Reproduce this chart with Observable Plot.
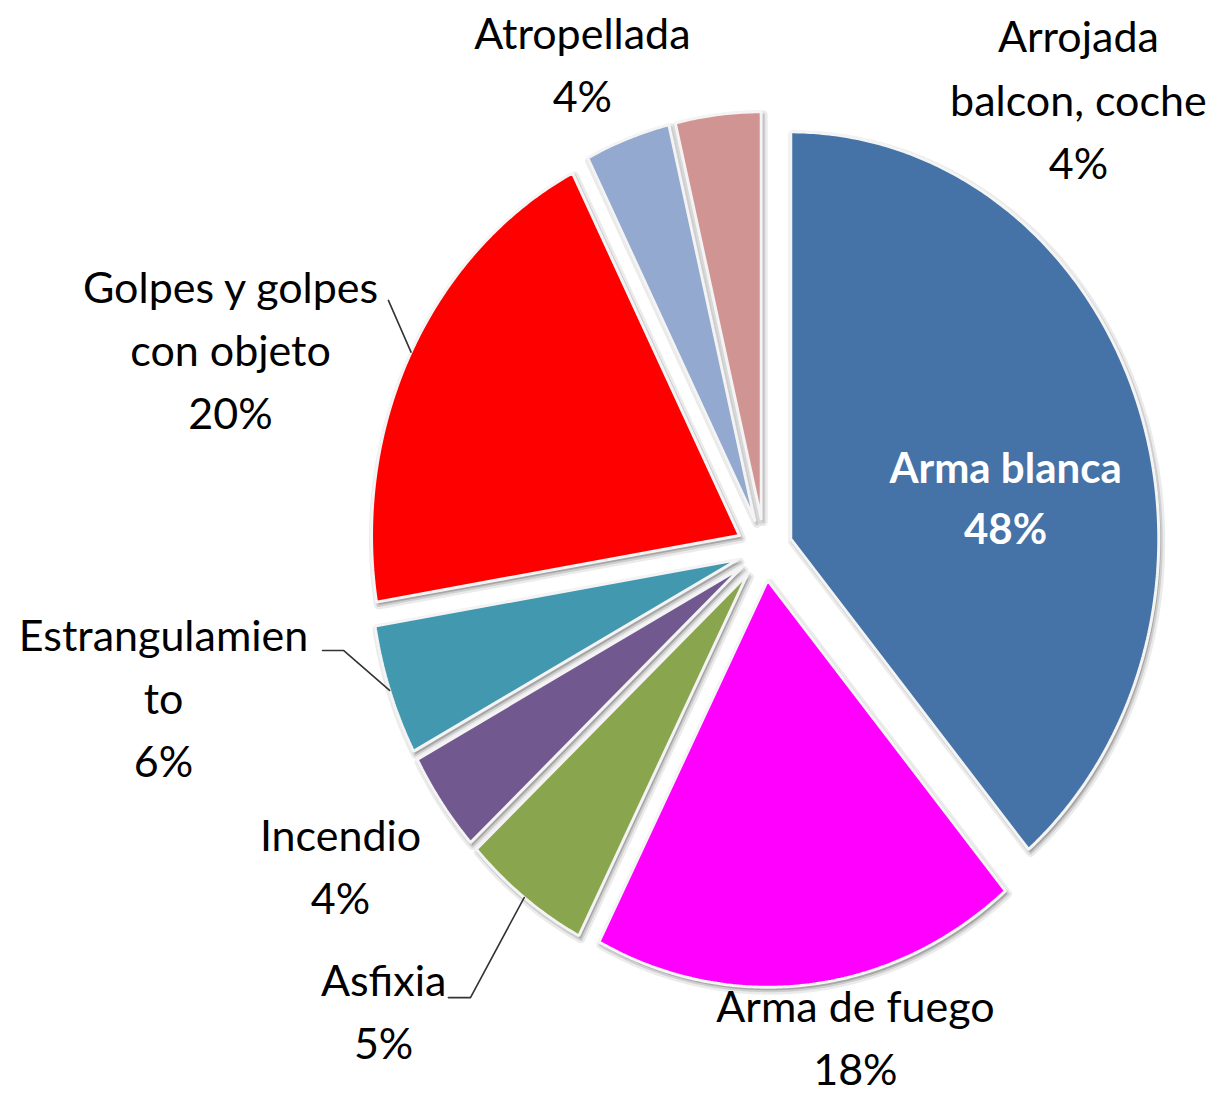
<!DOCTYPE html>
<html>
<head>
<meta charset="utf-8">
<script src="https://cdn.jsdelivr.net/npm/d3@7"></script>
<script src="https://cdn.jsdelivr.net/npm/@observablehq/plot@0.6"></script>
<style>
  html, body { margin: 0; padding: 0; background: #fff; }
</style>
</head>
<body>
<div id="chart"></div>
<script>
// ---- data ----
const categories = ["Arma blanca", "Arma de fuego", "Asfixia", "Incendio", "Estrangulamiento", "Golpes y golpes con objeto", "Atropellada", "Arrojada balcon, coche"];
// slice sizes as drawn (share of the circle, %)
const sliceShares = [38.8, 18.75, 5.6, 4.0, 5.2, 20.1, 3.75, 3.75];
// percentages as printed on the labels
const labelPercents = [48, 18, 5, 4, 6, 20, 4, 4];
// label text as printed (with its line breaks)
const labelNames = ["Arma blanca", "Arma de fuego", "Asfixia", "Incendio", "Estrangulamien\nto", "Golpes y golpes\ncon objeto", "Atropellada", "Arrojada\nbalcon, coche"];
const sliceColors = ["#4572A7", "#FF00FF", "#89A54E", "#71588F", "#4198AF", "#FF0000", "#93A9CF", "#D09493"];

// ---- layout (in units of the pie radius) ----
const EXPLODE = 0.076;
const labelPos = [
  [0.655, 0.137], [0.247, -1.188], [-1.035, -1.125], [-1.152, -0.768],
  [-1.633, -0.355], [-1.451, 0.501], [-0.495, 1.202], [0.853, 1.116]
];
// leader elbows (label side) for the labels that have one
const leaderElbows = {
  "Golpes y golpes con objeto": [[-1.022, 0.612]],
  "Estrangulamiento": [[-1.201, -0.248], [-1.144, -0.248]],
  "Asfixia": [[-0.859, -1.101], [-0.799, -1.101]]
};

const rows = categories.map((c, i) => ({name: c, share: sliceShares[i], color: sliceColors[i], i}));
const arcs = d3.pie().sort(null).value(d => d.share)(rows);

const polyPoints = [];
const anchors = {};
for (const a of arcs) {
  const mid = (a.startAngle + a.endAngle) / 2;
  const ox = EXPLODE * Math.sin(mid), oy = EXPLODE * Math.cos(mid);
  const name = a.data.name, color = a.data.color;
  polyPoints.push({name, color, x: ox, y: oy});
  const n = Math.max(8, Math.ceil((a.endAngle - a.startAngle) / (Math.PI / 360)));
  for (let k = 0; k <= n; k++) {
    const t = a.startAngle + (a.endAngle - a.startAngle) * k / n;
    polyPoints.push({name, color, x: ox + Math.sin(t), y: oy + Math.cos(t)});
  }
  polyPoints.push({name, color, x: ox, y: oy});
  anchors[name] = [ox + Math.sin(mid), oy + Math.cos(mid)];
}

const leaders = [];
for (const [name, pts] of Object.entries(leaderElbows)) {
  for (const p of pts) leaders.push({name, x: p[0], y: p[1]});
  leaders.push({name, x: anchors[name][0], y: anchors[name][1]});
}

const labels = categories.map((c, i) => ({
  name: c,
  text: labelNames[i] + "\n" + labelPercents[i] + "%",
  x: labelPos[i][0], y: labelPos[i][1]
}));

const W = 1217, H = 1095, CX = 764, CY = 549, RX = 368, RY = 407;

const chart = Plot.plot({
  width: W, height: H,
  margin: 0,
  x: {domain: [-CX / RX, (W - CX) / RX], axis: null},
  y: {domain: [-(H - CY) / RY, CY / RY], axis: null},
  style: {fontFamily: "Lato, 'Open Sans', sans-serif", background: "white"},
  marks: [
    // soft shadow
    Plot.line(polyPoints, {x: "x", y: "y", z: "name", fill: "#000", fillOpacity: 0.08, stroke: "#000", strokeOpacity: 0.08, strokeWidth: 9, dx: 2, dy: 3, curve: "linear"}),
    Plot.line(polyPoints, {x: "x", y: "y", z: "name", fill: "#000", fillOpacity: 0.12, stroke: "#000", strokeOpacity: 0.12, strokeWidth: 4, dx: 2, dy: 3, curve: "linear"}),
    // slices
    ...sliceColors.map((c, i) => Plot.line(polyPoints.filter(p => p.name === categories[i]), {x: "x", y: "y", fill: c, stroke: "#f4f4f4", strokeWidth: 3, strokeLinejoin: "miter", curve: "linear"})),
    Plot.line(leaders, {x: "x", y: "y", z: "name", stroke: "#333", strokeWidth: 1.6, curve: "linear"}),
    Plot.text(labels.filter(d => d.name !== "Arma blanca"), {x: "x", y: "y", text: "text", fontSize: 43, lineHeight: 1.47, fill: "#000"}),
    Plot.text(labels.filter(d => d.name === "Arma blanca"), {x: "x", y: "y", text: "text", fontSize: 42, lineHeight: 1.47, fill: "white", fontWeight: "bold"})
  ]
});
document.getElementById("chart").appendChild(chart);
</script>
</body>
</html>
